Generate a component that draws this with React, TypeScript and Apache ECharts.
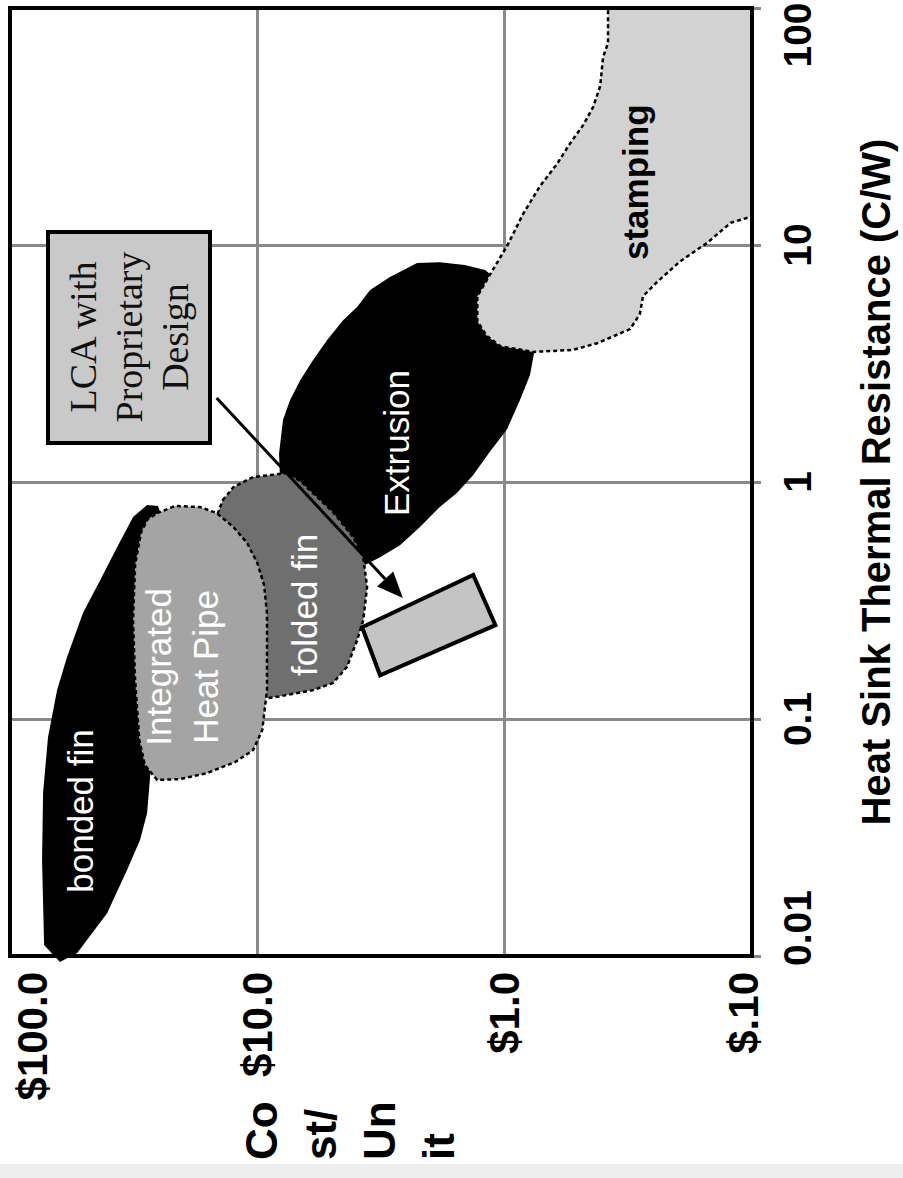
import React, { useEffect, useRef } from "react";
import * as echarts from "echarts";

// ---- Axis ticks ----
const costTicks = [100, 10, 1, 0.1];
const costTickLabels = ["$100.0", "$10.0", "$1.0", "$.10"];
const resistanceTicks = [0.01, 0.1, 1, 10, 100];
const resistanceTickLabels = ["0.01", "0.1", "1", "10", "100"];

// ---- Regions: [cost $/unit, thermal resistance C/W] outline vertices ----
const bondedFinCost = [62.8, 72.8, 74.2, 73.5, 70.2, 64.5, 58.8, 50.7, 43.2, 36.9, 31.8, 27.9, 25.2, 24.1, 24.7, 25.7, 27.2, 27.9, 29.8, 33.6, 40.5, 53.5];
const bondedFinRes = [0.00943, 0.01113, 0.0254, 0.0487, 0.0838, 0.1324, 0.1826, 0.28, 0.385, 0.531, 0.712, 0.8, 0.792, 0.691, 0.318, 0.12, 0.0553, 0.0401, 0.0309, 0.0231, 0.01515, 0.0103];

const heatPipeCost = [25.4, 21.5, 17.0, 14.6, 12.5, 11.0, 10.0, 9.39, 9.14, 9.14, 9.55, 10.4, 12.3, 16.0, 20.5, 25.4, 28.5, 30.0, 31.2, 31.8, 31.2, 29.5, 27.7];
const heatPipeRes = [0.739, 0.792, 0.784, 0.739, 0.646, 0.553, 0.455, 0.367, 0.28, 0.1324, 0.0899, 0.0739, 0.0658, 0.0591, 0.0558, 0.0553, 0.064, 0.0815, 0.146, 0.261, 0.447, 0.615, 0.698];

const foldedFinCost = [13.8, 12.5, 10.4, 7.57, 6.71, 4.94, 4.1, 3.73, 3.6, 3.73, 3.95, 4.34, 4.94, 5.95, 8.32, 10.7, 11.2, 11.7, 14.8];
const foldedFinRes = [0.838, 0.951, 1.05, 1.09, 1.01, 0.746, 0.586, 0.481, 0.361, 0.261, 0.215, 0.166, 0.142, 0.1324, 0.124, 0.12, 0.195, 0.468, 0.691];

const extrusionCost = [8.1, 8.17, 7.87, 7.37, 6.71, 5.95, 5.22, 4.5, 3.95, 3.5, 2.91, 2.26, 1.83, 1.45, 1.2, 0.952, 0.79, 0.759, 0.79, 0.867, 0.978, 1.15, 1.34, 1.56, 1.83, 2.2, 2.65, 3.19, 3.67, 4.63, 6.1];
const extrusionRes = [1.04, 1.32, 1.83, 2.22, 2.69, 3.27, 3.97, 4.81, 5.47, 6.46, 7.32, 8.39, 8.46, 8.23, 7.84, 6.46, 4.81, 3.54, 2.83, 2.22, 1.67, 1.34, 1.07, 0.899, 0.784, 0.646, 0.541, 0.481, 0.447, 0.658, 0.881];

const stampingCost = [0.382, 0.1, 0.1, 0.122, 0.152, 0.195, 0.242, 0.276, 0.284, 0.311, 0.423, 0.529, 0.766, 1.04, 1.18, 1.29, 1.29, 1.15, 0.978, 0.843, 0.72, 0.614, 0.543, 0.481, 0.439, 0.411, 0.4, 0.382];
const stampingRes = [100, 100, 13.2, 12.4, 10.2, 8.54, 6.98, 6.07, 5.11, 4.42, 3.85, 3.61, 3.54, 3.74, 4.13, 4.77, 6.07, 7.46, 9.9, 13.5, 17.7, 22.0, 26.9, 32.1, 38.2, 46.8, 62.1, 71.2];

const lcaCost = [3.77, 1.34, 1.09, 3.19];
const lcaRes = [0.244, 0.405, 0.249, 0.153];

const arrowCost = [14.6, 2.58];
const arrowRes = [2.26, 0.324];

// ---- Region labels ----
const labelTexts = ["bonded fin", "Integrated\nHeat Pipe", "folded fin", "Extrusion", "stamping"];
const labelCost = [52.1, 20.2, 6.42, 2.75, 0.297];
const labelRes = [0.0409, 0.166, 0.303, 1.46, 18.4];
const labelColors = ["#ffffff", "#ffffff", "#ffffff", "#ffffff", "#000000"];
const labelWeights = ["normal", "normal", "normal", "normal", "bold"];

const SANS = "'Liberation Sans', Arial, Helvetica, sans-serif";

const GRID_LEFT = 10;
const GRID_TOP = 8;
const GRID_RIGHT = 151;
const GRID_BOTTOM = 222;
const PAGE_W = 903;
const PAGE_H = 1178;

function tickIndex(ticks: number[], v: number) {
  return ticks.findIndex((t) => Math.abs(Math.log10(t) - Math.log10(v)) < 1e-6);
}

function polygonSeries(name: string, costs: number[], res: number[], style: any) {
  return {
    type: "custom",
    name,
    coordinateSystem: "cartesian2d",
    silent: true,
    clip: false,
    data: [[costs[0], res[0]]],
    renderItem: (_p: any, api: any) => ({
      type: "polygon",
      shape: { points: costs.map((c, i) => api.coord([c, res[i]])) },
      style,
    }),
  };
}

export default function App() {
  const ref = useRef<HTMLDivElement>(null);

  useEffect(() => {
    if (!ref.current) return;
    const chart = echarts.init(ref.current, undefined, { renderer: "svg" });
    const dashed = { stroke: "#000", lineWidth: 2.5, lineDash: [4, 3] };
    const frameW = PAGE_W - GRID_LEFT - GRID_RIGHT;
    const frameH = PAGE_H - GRID_TOP - GRID_BOTTOM;

    const costFont = { fontSize: 42, fontWeight: "bold", fontFamily: SANS, color: "#000" };
    const resFont = { fontSize: 39, fontWeight: "bold", fontFamily: SANS, color: "#000" };

    const option: any = {
      animation: false,
      backgroundColor: "#ffffff",
      grid: {
        left: GRID_LEFT,
        top: GRID_TOP,
        right: GRID_RIGHT,
        bottom: GRID_BOTTOM,
        containLabel: false,
        outerBoundsMode: "none",
      },
      xAxis: {
        type: "log",
        logBase: 10,
        min: 0.1,
        max: 100,
        inverse: true,
        position: "bottom",
        axisLine: { show: false },
        axisTick: { show: false },
        splitLine: { show: true, lineStyle: { color: "#8a8a8a", width: 3 } },
        axisLabel: {
          rotate: 90,
          margin: 16,
          showMinLabel: true,
          showMaxLabel: true,
          ...costFont,
          formatter: (v: number) => {
            const i = tickIndex(costTicks, v);
            return i >= 0 ? `{c${i}|${costTickLabels[i]}}` : "";
          },
          rich: {
            c0: { ...costFont, padding: [44, 0, 0, 0] },
            c1: { ...costFont },
            c2: { ...costFont },
            c3: { ...costFont, padding: [0, 0, 18, 0] },
          },
        },
      },
      yAxis: {
        type: "log",
        logBase: 10,
        min: 0.01,
        max: 100,
        position: "right",
        name: "Heat Sink Thermal Resistance (C/W)",
        nameLocation: "middle",
        nameRotate: 90,
        nameGap: 104,
        nameTextStyle: { fontSize: 40, fontWeight: "bold", fontFamily: SANS, color: "#000" },
        axisLine: { show: false },
        axisTick: { show: true, length: 9, lineStyle: { color: "#8a8a8a", width: 3 } },
        splitLine: { show: true, lineStyle: { color: "#8a8a8a", width: 3 } },
        axisLabel: {
          rotate: 90,
          margin: 26,
          showMinLabel: true,
          showMaxLabel: true,
          ...resFont,
          formatter: (v: number) => {
            const i = tickIndex(resistanceTicks, v);
            return i >= 0 ? `{r${i}|${resistanceTickLabels[i]}}` : "";
          },
          rich: {
            r0: { ...resFont, padding: [0, 0, 0, 56] },
            r1: { ...resFont },
            r2: { ...resFont },
            r3: { ...resFont },
            r4: { ...resFont, padding: [0, 54, 0, 0] },
          },
        },
      },
      graphic: [
        {
          type: "rect",
          z: 100,
          silent: true,
          shape: { x: GRID_LEFT, y: GRID_TOP, width: frameW, height: frameH },
          style: { fill: "none", stroke: "#000", lineWidth: 4 },
        },
        {
          type: "rect",
          z: 20,
          silent: true,
          shape: { x: 48, y: 232, width: 162, height: 211 },
          style: { fill: "#c9c9c9", stroke: "#000", lineWidth: 4 },
        },
        {
          type: "text",
          z: 21,
          silent: true,
          x: 129,
          y: 337,
          rotation: Math.PI / 2,
          style: {
            text: "LCA with\nProprietary\nDesign",
            fill: "#111",
            fontSize: 38,
            fontFamily: "'Liberation Serif', 'Times New Roman', serif",
            align: "center",
            verticalAlign: "middle",
            lineHeight: 46,
          },
        },
        {
          type: "text",
          z: 21,
          silent: true,
          x: 350,
          y: 1160,
          rotation: Math.PI / 2,
          style: {
            text: "Co\nst/\nUn\nit",
            fill: "#000",
            fontSize: 44,
            fontWeight: "bold",
            fontFamily: SANS,
            align: "left",
            verticalAlign: "middle",
            lineHeight: 59,
          },
        },
        {
          type: "rect",
          z: 1,
          silent: true,
          shape: { x: 0, y: 1164, width: PAGE_W, height: 14 },
          style: { fill: "#ededed" },
        },
      ],
      series: [
        polygonSeries("Extrusion", extrusionCost, extrusionRes, { fill: "#000" }),
        polygonSeries("folded fin", foldedFinCost, foldedFinRes, { fill: "#6f6f6f", ...dashed }),
        polygonSeries("bonded fin", bondedFinCost, bondedFinRes, { fill: "#000" }),
        polygonSeries("Integrated Heat Pipe", heatPipeCost, heatPipeRes, { fill: "#a4a4a4", ...dashed }),
        polygonSeries("stamping", stampingCost, stampingRes, { fill: "#d2d2d2", ...dashed }),
        polygonSeries("LCA", lcaCost, lcaRes, { fill: "#c4c4c4", stroke: "#000", lineWidth: 4 }),
        {
          type: "custom",
          name: "arrow",
          coordinateSystem: "cartesian2d",
          silent: true,
          clip: false,
          data: [[arrowCost[0], arrowRes[0]]],
          renderItem: (_p: any, api: any) => {
            const a = api.coord([arrowCost[0], arrowRes[0]]);
            const b = api.coord([arrowCost[1], arrowRes[1]]);
            const dx = b[0] - a[0];
            const dy = b[1] - a[1];
            const len = Math.hypot(dx, dy);
            const ux = dx / len;
            const uy = dy / len;
            const headLen = 26;
            const headW = 11;
            const bx = b[0] - ux * headLen;
            const by = b[1] - uy * headLen;
            return {
              type: "group",
              children: [
                { type: "line", shape: { x1: a[0], y1: a[1], x2: bx, y2: by }, style: { stroke: "#000", lineWidth: 3 } },
                {
                  type: "polygon",
                  shape: { points: [b, [bx - uy * headW, by + ux * headW], [bx + uy * headW, by - ux * headW]] },
                  style: { fill: "#000" },
                },
              ],
            };
          },
        },
        {
          type: "custom",
          name: "labels",
          coordinateSystem: "cartesian2d",
          silent: true,
          clip: false,
          data: labelCost.map((c, i) => [c, labelRes[i]]),
          renderItem: (p: any, api: any) => {
            const i = p.dataIndex;
            const pt = api.coord([labelCost[i], labelRes[i]]);
            return {
              type: "text",
              x: pt[0],
              y: pt[1],
              rotation: Math.PI / 2,
              style: {
                text: labelTexts[i],
                fill: labelColors[i],
                fontSize: 35,
                fontWeight: labelWeights[i],
                fontFamily: SANS,
                align: "center",
                verticalAlign: "middle",
                lineHeight: 47,
              },
            };
          },
        },
      ],
    };

    chart.setOption(option);
    return () => chart.dispose();
  }, []);

  return (
    <div
      ref={ref}
      style={{ position: "absolute", left: 0, top: 0, width: PAGE_W, height: PAGE_H, background: "#fff" }}
    />
  );
}
